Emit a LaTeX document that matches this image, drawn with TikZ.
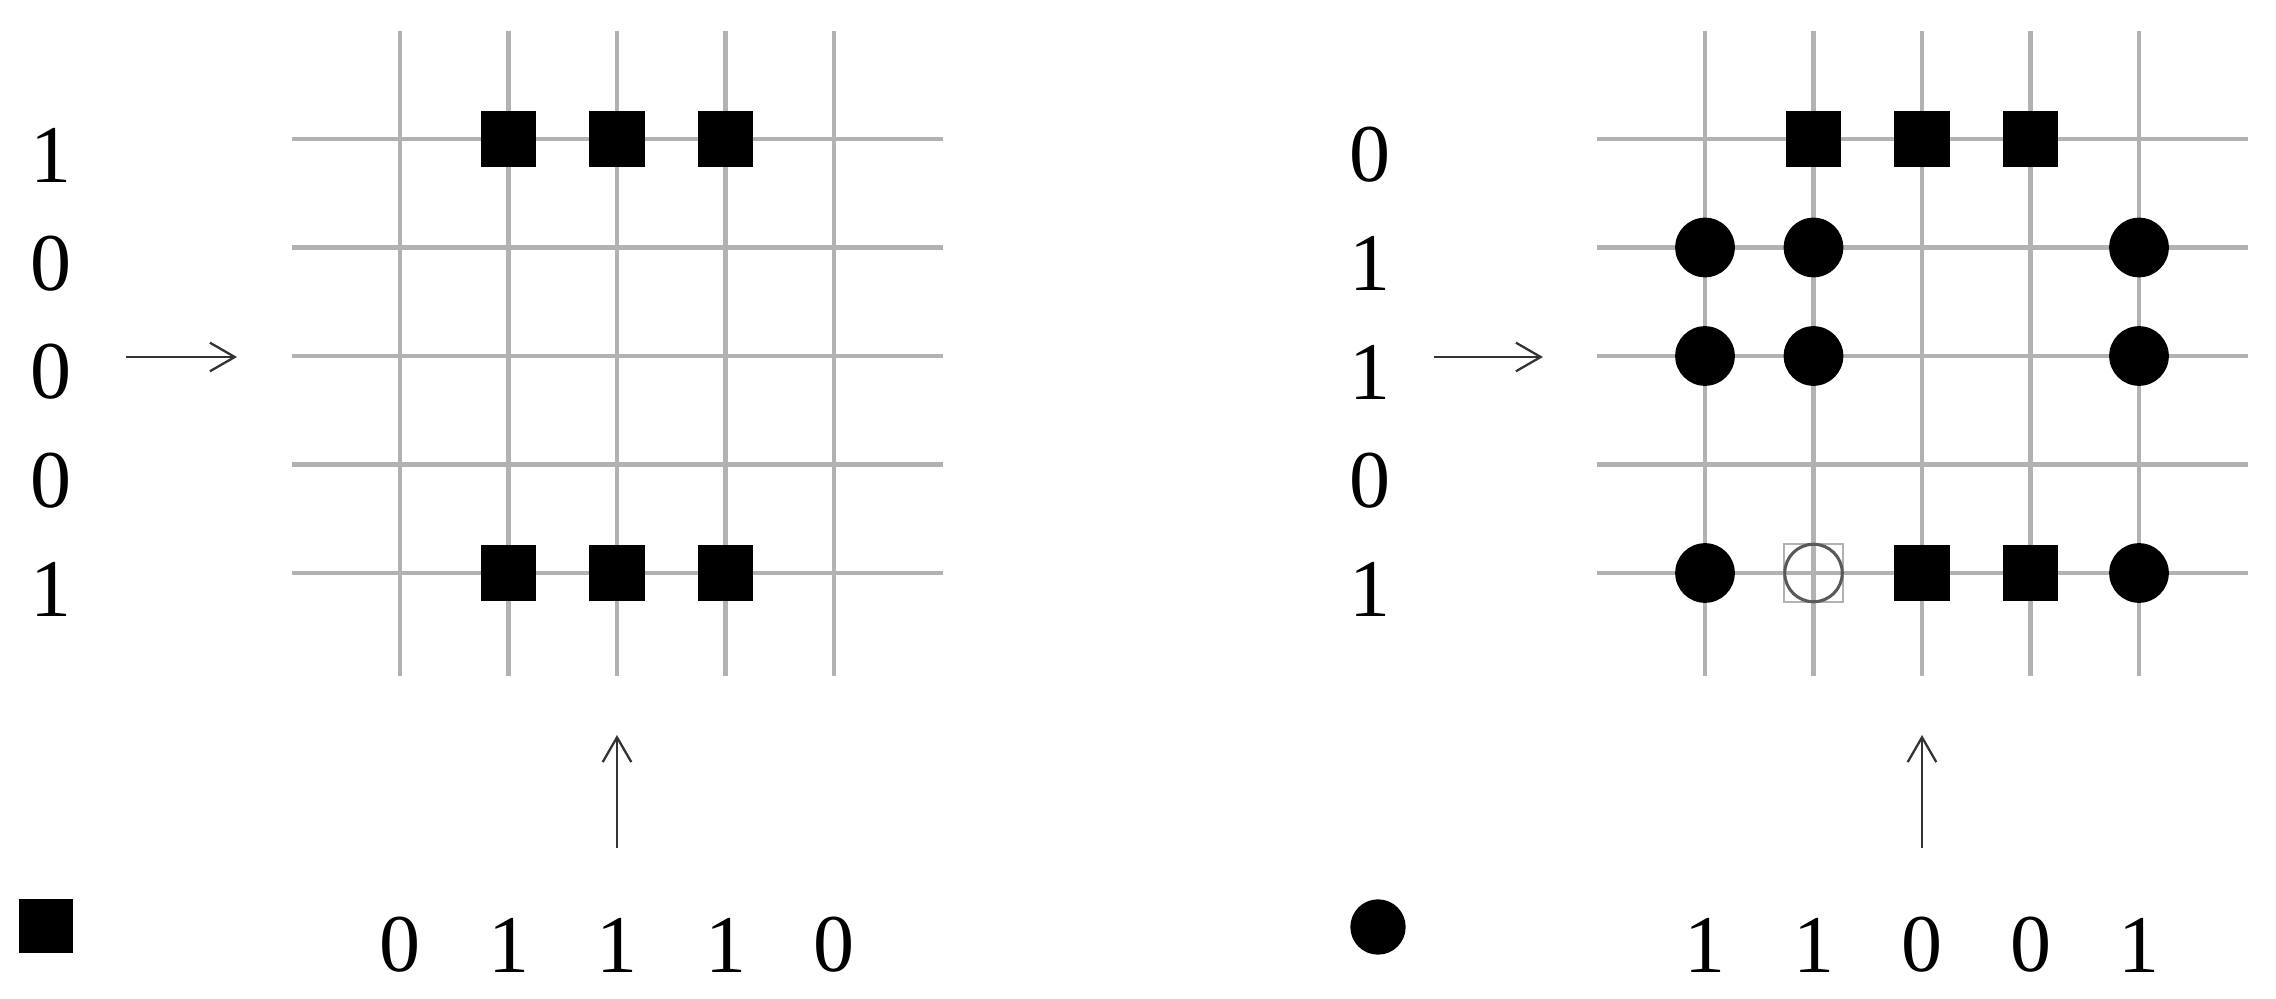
\documentclass[tikz,border=0pt]{standalone}
\usepackage{fontspec}
\setmainfont{Liberation Serif}
\usetikzlibrary{arrows.meta}
\begin{document}
\begin{tikzpicture}[x=0.009217cm,y=-0.009217cm,
  gridline/.style={line width=1.1pt, draw=black!30},
  sq/.style={rectangle, fill=black, minimum size=0.51cm, inner sep=0pt},
  dot/.style={circle, fill=black, minimum size=0.55cm, inner sep=0pt},
  lab/.style={font=\fontsize{21.5}{24}\selectfont, inner sep=0pt},
  arr/.style={line width=0.6pt, draw=black!80, -{Straight Barb[length=6.5pt,width=7.5pt]}}]
\useasboundingbox (0,0) rectangle (2276,999);
% grid points
\foreach \g/\ox in {L/400,R/1705} {
  \foreach \r in {0,...,4} {
    \foreach \c in {0,...,4} {
      \coordinate (\g-\r-\c) at ({\ox+\c*108.5},{139+\r*108.5});
    }
  }
  \foreach \k in {0,...,4} {
    \draw[gridline] ({\ox-108.5},{139+\k*108.5}) -- ({\ox+434+108.5},{139+\k*108.5});
    \draw[gridline] ({\ox+\k*108.5},31) -- ({\ox+\k*108.5},676);
  }
}
% left grid markers
\foreach \r in {0,4} {
  \foreach \c in {1,2,3} {
    \node[sq] (mL-\r-\c) at (L-\r-\c) {};
  }
}
% right grid markers
\foreach \c in {1,2,3} { \node[sq] (mR-0-\c) at (R-0-\c) {}; }
\foreach \r in {1,2} {
  \foreach \c in {0,1,4} { \node[dot] (mR-\r-\c) at (R-\r-\c) {}; }
}
\node[dot] (mR-4-0) at (R-4-0) {};
\node[rectangle, draw=black!30, line width=0.6pt, minimum size=0.54cm, inner sep=0pt] (mR-4-1s) at (R-4-1) {};
\node[circle, draw=black!65, line width=0.8pt, minimum size=0.53cm, inner sep=0pt] (mR-4-1) at (R-4-1) {};
\node[sq] (mR-4-2) at (R-4-2) {};
\node[sq] (mR-4-3) at (R-4-3) {};
\node[dot] (mR-4-4) at (R-4-4) {};
% row labels
\foreach \r/\t in {0/1,1/0,2/0,3/0,4/1} {
  \node[lab] (lL\r) at (51,{155+\r*108.5}) {\t};
}
\foreach \r/\t in {0/0,1/1,2/1,3/0,4/1} {
  \node[lab] (lR\r) at (1370,{155+\r*108.5}) {\t};
}
% column labels
\foreach \c/\t in {0/0,1/1,2/1,3/1,4/0} {
  \node[lab] (cL\c) at ({400+\c*108.5},945) {\t};
}
\foreach \c/\t in {0/1,1/1,2/0,3/0,4/1} {
  \node[lab] (cR\c) at ({1705+\c*108.5},945) {\t};
}
% arrows
\coordinate (aL1) at (126,357); \coordinate (aL2) at (237,357);
\coordinate (aR1) at (1434,357); \coordinate (aR2) at (1543,357);
\coordinate (vL1) at (617,848); \coordinate (vL2) at (617,735);
\coordinate (vR1) at (1922,848); \coordinate (vR2) at (1922,735);
\draw[arr] (aL1) -- (aL2);
\draw[arr] (aR1) -- (aR2);
\draw[arr] (vL1) -- (vL2);
\draw[arr] (vR1) -- (vR2);
% legend
\node[sq, minimum size=0.49cm] (legSq) at (46,926) {};
\node[dot, minimum size=0.51cm] (legDot) at (1378,927) {};
\end{tikzpicture}
\end{document}
